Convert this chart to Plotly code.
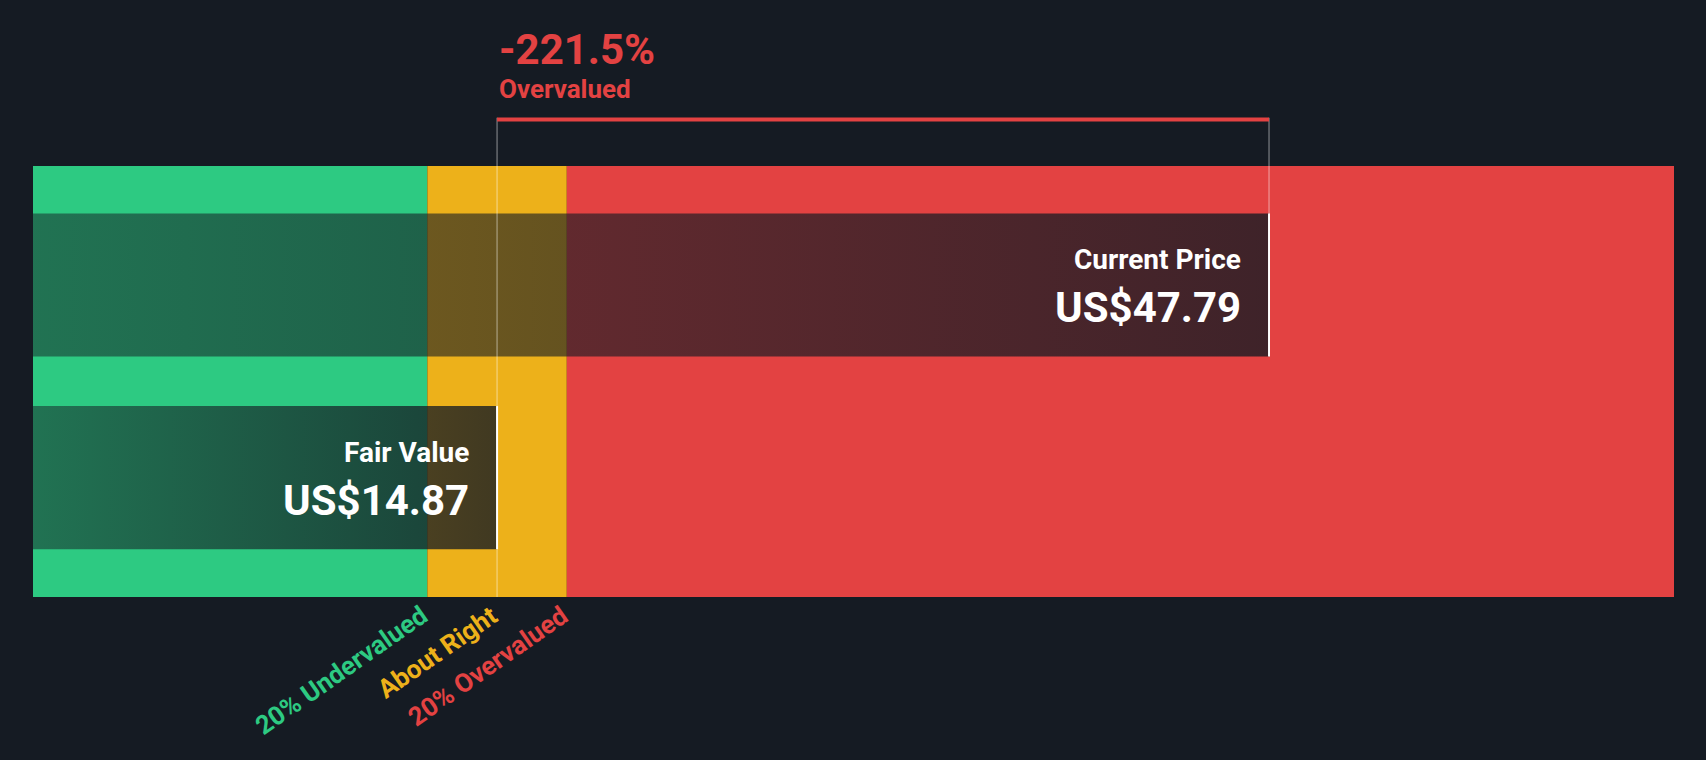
import plotly.graph_objects as go

# valores del gráfico
fair_value = 14.87
current_price = 47.79
axis_range = [-4.92, 65.06]

zone_names = ["20% Undervalued", "About Right", "20% Overvalued"]
zone_colors = ["#2dca82", "#edb11a", "#e34242"]
zone_edges = [axis_range[0], fair_value * 0.8, fair_value * 1.2, axis_range[1]]
zone_label_x = [fair_value * 0.8, fair_value, fair_value * 1.2]

bar_names = ["Fair Value", "Current Price"]
bar_values = [fair_value, current_price]
bar_y = [0.277, 0.724]
bar_w = 0.332

diff_text = "-221.5%"
diff_label = "Overvalued"

bg = "#151b23"
red = "#e34242"

fig = go.Figure()

# zonas de fondo
for i in range(3):
    fig.add_trace(go.Bar(
        x=[zone_edges[i + 1] - zone_edges[i]], base=[zone_edges[i]],
        y=[0.5], width=[1], orientation="h",
        marker=dict(color=zone_colors[i], line=dict(width=0)),
        hoverinfo="skip"
    ))

# barras oscuras con degradado
for name, val, yc in zip(bar_names, bar_values, bar_y):
    x0 = axis_range[0]
    fig.add_trace(go.Scatter(
        x=[x0, val, val, x0, x0],
        y=[yc - bar_w / 2, yc - bar_w / 2, yc + bar_w / 2, yc + bar_w / 2, yc - bar_w / 2],
        mode="lines", line=dict(width=0), fill="toself",
        fillgradient=dict(type="horizontal",
                          colorscale=[[0, "rgba(21,27,35,0.5)"], [1, "rgba(21,27,35,0.8)"]]),
        hoverinfo="skip"
    ))
    fig.add_annotation(x=val, y=yc, xref="x", yref="y", text="<b>" + name + "</b>",
                       showarrow=False, xanchor="right", yanchor="middle",
                       xshift=-26, yshift=25,
                       font=dict(family="Roboto", size=28, color="white"))
    fig.add_annotation(x=val, y=yc, xref="x", yref="y", text="<b>US$%.2f</b>" % val,
                       showarrow=False, xanchor="right", yanchor="middle",
                       xshift=-26, yshift=-23,
                       font=dict(family="Roboto", size=42, color="white"))

shapes = [
    dict(type="line", xref="x", yref="paper", x0=fair_value, x1=fair_value, y0=0, y1=1.112,
         line=dict(color="rgba(255,255,255,0.35)", width=1.5)),
    dict(type="line", xref="x", yref="paper", x0=current_price, x1=current_price,
         y0=bar_y[1] + bar_w / 2, y1=1.112,
         line=dict(color="rgba(255,255,255,0.35)", width=1.5)),
    dict(type="line", xref="x", yref="paper", x0=fair_value, x1=current_price, y0=1.108, y1=1.108,
         line=dict(color=red, width=4)),
]
for val, yc in zip(bar_values, bar_y):
    shapes.append(dict(type="line", xref="x", yref="y", x0=val, x1=val,
                       y0=yc - bar_w / 2, y1=yc + bar_w / 2,
                       line=dict(color="white", width=2)))

# texto superior
fig.add_annotation(x=fair_value, y=1, xref="x", yref="paper", text="<b>" + diff_text + "</b>",
                   showarrow=False, xanchor="left", yanchor="middle", yshift=117,
                   font=dict(family="Roboto", size=42, color=red))
fig.add_annotation(x=fair_value, y=1, xref="x", yref="paper", text="<b>" + diff_label + "</b>",
                   showarrow=False, xanchor="left", yanchor="middle", yshift=77,
                   font=dict(family="Roboto", size=26, color=red))

# etiquetas de zonas
for name, xv, col in zip(zone_names, zone_label_x, zone_colors):
    fig.add_annotation(x=xv, y=0, xref="x", yref="paper", text="<b>" + name + "</b>",
                       showarrow=False, xanchor="right", yanchor="top", textangle=-35,
                       xshift=9, yshift=0, font=dict(family="Roboto", size=26, color=col))

fig.update_layout(
    width=1706, height=760,
    margin=dict(l=33, r=32, t=166, b=163),
    paper_bgcolor=bg, plot_bgcolor=bg,
    barmode="overlay", showlegend=False,
    shapes=shapes,
    xaxis=dict(range=axis_range, visible=False, fixedrange=True),
    yaxis=dict(range=[0, 1], visible=False, fixedrange=True),
)

fig.write_html("out.html", config={"displayModeBar": False},
               post_script="document.body.style.margin='0';document.body.style.background='%s';" % bg)
